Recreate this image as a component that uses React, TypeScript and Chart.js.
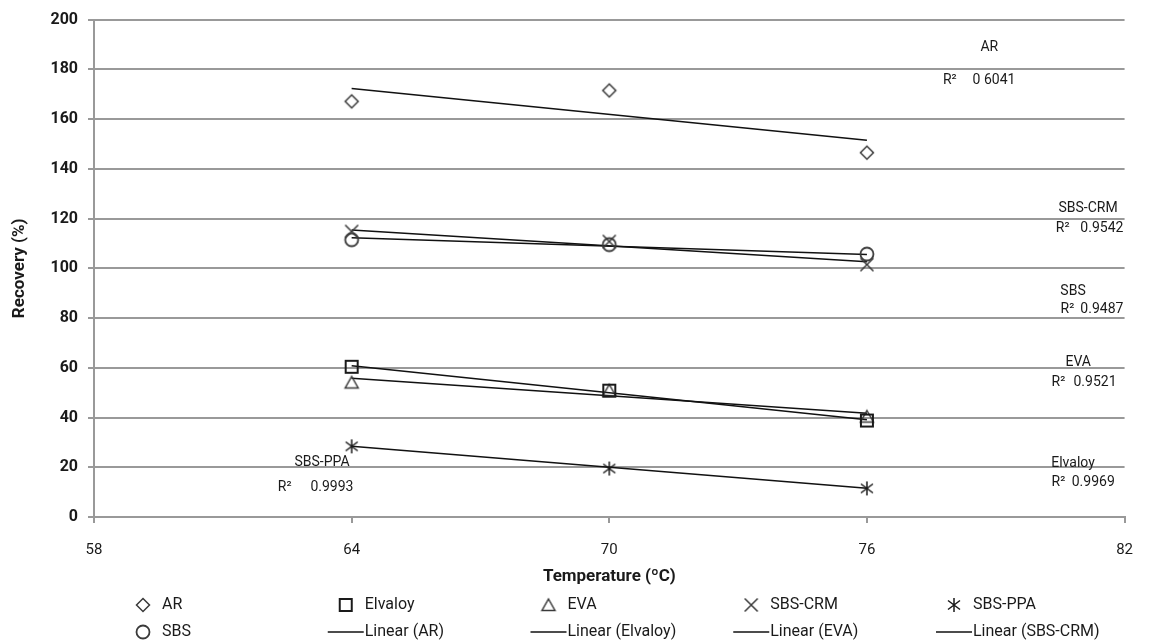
import React, { useEffect, useRef } from 'react';
import { Chart, registerables } from 'chart.js';

Chart.register(...registerables);

// ---------- data ----------
const temperatures = [64, 70, 76];
const arValues = [167.1, 171.5, 146.5];
const elvaloyValues = [60.4, 50.8, 38.8];
const evaValues = [54.1, 50.9, 40.4];
const sbsCrmValues = [114.8, 110.8, 101.5];
const sbsPpaValues = [28.4, 19.5, 11.5];
const sbsValues = [111.5, 109.5, 105.7];

const trendTemperatures = [64, 76];
const arTrend = [172.3, 151.5];
const elvaloyTrend = [60.8, 39.1];
const evaTrend = [55.8, 41.7];
const sbsCrmTrend = [115.4, 102.6];
const sbsTrend = [112.3, 105.5];
const sbsPpaTrend = [28.4, 11.6];

const xTickValues = [58, 64, 70, 76, 82];
const yTickValues = [0, 20, 40, 60, 80, 100, 120, 140, 160, 180, 200];

const r2Names = ['AR', 'SBS-CRM', 'SBS', 'EVA', 'Elvaloy', 'SBS-PPA'];
const r2Values = ['0 6041', '0.9542', '0.9487', '0.9521', '0.9969', '0.9993'];

const xTitle = 'Temperature (ºC)';
const yTitle = 'Recovery (%)';

// ---------- styles / placement ----------
const FONT = "Roboto, 'Liberation Sans', Arial, sans-serif";
const TEXT = '#1a1a1a';
const GRID = '#999999';

// label anchors in data units: [nameCenterX, nameY, r2LeftX, valueLeftX, r2Y]
const r2Anchors: number[][] = [
  [78.85, 188.8, 77.77, 78.46, 175.6],
  [81.15, 124.0, 80.40, 80.97, 116.0],
  [80.80, 90.8, 80.51, 80.97, 83.6],
  [80.92, 62.0, 80.30, 80.81, 54.0],
  [80.80, 21.6, 80.30, 80.77, 14.0],
  [63.31, 22.0, 62.28, 63.04, 12.0],
];

const LEGEND_TEXT_X0 = 162;
const LEGEND_COL_W = 202.75;
const LEGEND_ROW_Y = [605, 632];

function makeMarker(kind: string): HTMLCanvasElement {
  const c = document.createElement('canvas');
  c.width = 20;
  c.height = 20;
  const g = c.getContext('2d')!;
  g.strokeStyle = '#3a3a3a';
  g.lineWidth = 1.5;
  g.beginPath();
  switch (kind) {
    case 'diamond':
      g.moveTo(10, 3.5); g.lineTo(16.5, 10); g.lineTo(10, 16.5); g.lineTo(3.5, 10); g.closePath();
      break;
    case 'square':
      g.lineWidth = 2; g.strokeStyle = '#1a1a1a';
      g.rect(4, 4, 12, 12);
      break;
    case 'triangle':
      g.moveTo(10, 4); g.lineTo(16.5, 15.5); g.lineTo(3.5, 15.5); g.closePath();
      break;
    case 'x':
      g.moveTo(3.5, 3.5); g.lineTo(16.5, 16.5); g.moveTo(16.5, 3.5); g.lineTo(3.5, 16.5);
      break;
    case 'star':
      g.strokeStyle = '#1a1a1a';
      g.moveTo(10, 3); g.lineTo(10, 17); g.moveTo(4, 5.5); g.lineTo(16, 14.5); g.moveTo(16, 5.5); g.lineTo(4, 14.5);
      break;
    case 'circle':
      g.lineWidth = 1.8;
      g.arc(10, 10, 6.5, 0, Math.PI * 2);
      break;
  }
  g.stroke();
  return c;
}

function pts(xs: number[], ys: number[]) {
  return xs.map((x, i) => ({ x, y: ys[i] }));
}

const overlayPlugin = {
  id: 'overlay',
  afterDraw(chart: any) {
    const ctx = chart.ctx as CanvasRenderingContext2D;
    const xs = chart.scales.x;
    const ys = chart.scales.y;
    const area = chart.chartArea;
    ctx.save();
    ctx.fillStyle = TEXT;

    // axis titles
    ctx.font = `bold 17px ${FONT}`;
    ctx.textAlign = 'center';
    ctx.textBaseline = 'middle';
    ctx.fillText(xTitle, (area.left + area.right) / 2, 577);
    ctx.save();
    ctx.translate(20, (area.top + area.bottom) / 2);
    ctx.rotate(-Math.PI / 2);
    ctx.fillText(yTitle, 0, 0);
    ctx.restore();

    // R² annotations
    ctx.font = `14px ${FONT}`;
    r2Names.forEach((name, i) => {
      const a = r2Anchors[i];
      ctx.textAlign = 'center';
      ctx.fillText(name, xs.getPixelForValue(a[0]), ys.getPixelForValue(a[1]));
      ctx.textAlign = 'left';
      ctx.fillText('R²', xs.getPixelForValue(a[2]), ys.getPixelForValue(a[4]));
      ctx.fillText(r2Values[i], xs.getPixelForValue(a[3]), ys.getPixelForValue(a[4]));
    });

    // legend (first 10 entries, 5 columns x 2 rows)
    const ds = chart.data.datasets;
    ctx.font = `16px ${FONT}`;
    ctx.textAlign = 'left';
    for (let i = 0; i < 10 && i < ds.length; i++) {
      const col = i % 5;
      const row = Math.floor(i / 5);
      const tx = LEGEND_TEXT_X0 + col * LEGEND_COL_W;
      const cy = LEGEND_ROW_Y[row];
      const d = ds[i];
      if (d.showLine) {
        ctx.strokeStyle = '#111';
        ctx.lineWidth = 1.5;
        ctx.beginPath();
        ctx.moveTo(tx - 37, cy);
        ctx.lineTo(tx - 1, cy);
        ctx.stroke();
      } else {
        const img = d.pointStyle as HTMLCanvasElement;
        ctx.drawImage(img, tx - 19 - img.width / 2, cy - img.height / 2);
      }
      ctx.fillStyle = TEXT;
      ctx.fillText(d.label, tx, cy);
    }
    ctx.restore();
  },
};

export default function App() {
  const ref = useRef<HTMLCanvasElement | null>(null);

  useEffect(() => {
    if (!ref.current) return;
    const markerDs = (label: string, kind: string, ys: number[]) => ({
      label,
      data: pts(temperatures, ys),
      showLine: false,
      pointStyle: makeMarker(kind),
      pointRadius: 7,
      borderColor: '#3a3a3a',
      backgroundColor: 'transparent',
    });
    const trendDs = (label: string, ys: number[]) => ({
      label,
      data: pts(trendTemperatures, ys),
      showLine: true,
      pointRadius: 0,
      borderColor: '#111',
      borderWidth: 1.5,
      fill: false,
    });
    const chart = new Chart(ref.current, {
      type: 'scatter',
      data: {
        datasets: [
          markerDs('AR', 'diamond', arValues),
          markerDs('Elvaloy', 'square', elvaloyValues),
          markerDs('EVA', 'triangle', evaValues),
          markerDs('SBS-CRM', 'x', sbsCrmValues),
          markerDs('SBS-PPA', 'star', sbsPpaValues),
          markerDs('SBS', 'circle', sbsValues),
          trendDs('Linear (AR)', arTrend),
          trendDs('Linear (Elvaloy)', elvaloyTrend),
          trendDs('Linear (EVA)', evaTrend),
          trendDs('Linear (SBS-CRM)', sbsCrmTrend),
          trendDs('Linear (SBS)', sbsTrend),
          trendDs('Linear (SBS-PPA)', sbsPpaTrend),
        ] as any,
      },
      options: {
        animation: false,
        responsive: false,
        layout: { padding: { left: 0, top: 17, right: 14, bottom: 0 } },
        plugins: { legend: { display: false }, tooltip: { enabled: false } },
        scales: {
          x: {
            type: 'linear',
            min: 58,
            max: 82,
            afterBuildTicks: (s: any) => { s.ticks = xTickValues.map((v) => ({ value: v })); },
            afterFit: (s: any) => { s.height = 125; },
            grid: { drawOnChartArea: false, drawTicks: true, tickLength: 6, color: GRID, lineWidth: 2 },
            border: { display: true, color: GRID, width: 2 },
            ticks: { padding: 18, color: TEXT, maxRotation: 0, font: { family: FONT, size: 15 } },
          },
          y: {
            type: 'linear',
            min: 0,
            max: 200,
            afterBuildTicks: (s: any) => { s.ticks = yTickValues.map((v) => ({ value: v })); },
            afterFit: (s: any) => { s.width = 94; },
            grid: { color: GRID, lineWidth: 2, tickLength: 6 },
            border: { display: true, color: GRID, width: 2 },
            ticks: { padding: 10, color: TEXT, font: { family: FONT, size: 16, weight: 'bold' } },
          },
        },
      } as any,
      plugins: [overlayPlugin],
    });
    return () => chart.destroy();
  }, []);

  return (
    <div style={{ position: 'absolute', left: 0, top: 0, width: 1151, height: 642, background: '#fff' }}>
      <canvas ref={ref} width={1151} height={642} style={{ display: 'block' }} />
    </div>
  );
}
